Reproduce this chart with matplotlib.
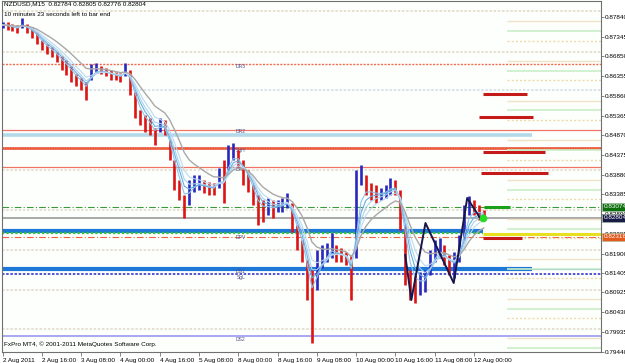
import matplotlib
matplotlib.use('Agg')
import matplotlib.pyplot as plt
import matplotlib.transforms as mtransforms
import numpy as np
import pandas as pd

plt.rcParams['font.family'] = ['Liberation Sans', 'DejaVu Sans']

# NZDUSD M15, grouped into 2-hour bars (8 x M15) - highs and lows
bar_step = 8
bar_highs = [0.87715, 0.87715, 0.87665, 0.8764, 0.87815, 0.87665, 0.87589, 0.87464, 0.87263, 0.87163,
             0.87087, 0.86962, 0.86861, 0.86761, 0.8661, 0.8641, 0.86309, 0.86209, 0.8666, 0.86686,
             0.8661, 0.8656, 0.8651, 0.8646, 0.86435, 0.86686, 0.8651, 0.85958, 0.85506, 0.8538,
             0.85305, 0.85054, 0.85305, 0.85255, 0.84753, 0.84251, 0.83749, 0.83372, 0.83749, 0.83874,
             0.83874, 0.83749, 0.83699, 0.83674, 0.8405, 0.84251, 0.84627, 0.84677, 0.84502, 0.84251,
             0.84, 0.83623, 0.83372, 0.83247, 0.83297, 0.83247, 0.83247, 0.83297, 0.83423, 0.83172,
             0.82619, 0.82243, 0.81741, 0.8149, 0.81992, 0.82117, 0.82168, 0.82419, 0.82117, 0.82042,
             0.81942, 0.81866, 0.84, 0.84125, 0.83874, 0.83674, 0.83623, 0.83548, 0.83623, 0.83799,
             0.83749, 0.83498, 0.82619, 0.8149, 0.81364, 0.8144, 0.8149, 0.81992, 0.82243, 0.82293,
             0.82117, 0.81866, 0.81942, 0.82368, 0.83121, 0.83347, 0.83247, 0.83121, 0.82996]
bar_lows = [0.87564, 0.87514, 0.87489, 0.87439, 0.87564, 0.87439, 0.87313, 0.87163, 0.87012, 0.86912,
            0.86836, 0.86711, 0.8651, 0.86384, 0.86209, 0.86108, 0.86008, 0.85757, 0.86259, 0.8646,
            0.8641, 0.86359, 0.86259, 0.86259, 0.86209, 0.86359, 0.85882, 0.85305, 0.85129, 0.84954,
            0.84878, 0.84627, 0.84954, 0.84878, 0.84251, 0.83498, 0.83247, 0.82795, 0.83121, 0.83448,
            0.83498, 0.83423, 0.83372, 0.83372, 0.83548, 0.83172, 0.84, 0.84251, 0.8405, 0.83623,
            0.83448, 0.83121, 0.82619, 0.82695, 0.8287, 0.82795, 0.82946, 0.82946, 0.83046, 0.82444,
            0.81992, 0.81691, 0.80737, 0.79658, 0.80988, 0.8154, 0.81691, 0.81791, 0.81691, 0.81691,
            0.81615, 0.80737, 0.81791, 0.83623, 0.83372, 0.83247, 0.83172, 0.83247, 0.83297, 0.83372,
            0.83372, 0.82494, 0.81113, 0.80737, 0.80662, 0.80862, 0.80938, 0.81364, 0.81691, 0.81791,
            0.81615, 0.81364, 0.81289, 0.81691, 0.82243, 0.8287, 0.8287, 0.82745, 0.82795]

bid = 0.82804

# zigzag turning points (M15 bar index, price)
zz_bars = [656, 666, 689, 735, 757, 778]
zz_prices = [0.81866, 0.80737, 0.82669, 0.81163, 0.83297, 0.82795]

# full width levels
tan_dotted_levels = [0.87991, 0.86962, 0.84, 0.82996, 0.81992, 0.80988, 0.80009]
blue_dotted_levels = [0.86008]
thin_red_levels = [0.85004, 0.84075]
dr3_level = 0.8666
sgh_level = 0.84552
green_dashdot = 0.83071
dpv_level = 0.82318
ds1_blue = 0.81502
ds1_dotted = 0.81395
ds2_level = 0.79821
dr2_band = 0.84878
upper_blue_band = 0.82469
upper_green_band = 0.82406
yellow_level = 0.82393

# short levels on the right side
right_tan = [0.8774, 0.86736, 0.85732, 0.84753, 0.83749, 0.8277, 0.81766, 0.80762, 0.79783]
right_green = [0.87489, 0.86485, 0.85506, 0.84502, 0.83498, 0.82519, 0.81515, 0.80511, 0.79532]
right_tan_dotted = [0.87238, 0.86259, 0.85255, 0.84251, 0.83272, 0.82293, 0.81289, 0.80285]
red_seg_prices = [0.85907, 0.8533, 0.84451, 0.83924, 0.82293]
red_seg_start = [783, 777, 782, 780, 783]
red_seg_end = [855, 865, 883, 888, 847]

level_labels = ['DR3', 'DR2', 'SgH', 'DR1', 'DPV', 'DS1', 'SgL', 'DS2']
level_label_prices = [0.8660, 0.8497, 0.8450, 0.8401, 0.8231, 0.8146, 0.8131, 0.7975]

price_ticks = [0.87840, 0.87345, 0.86850, 0.86355, 0.85860, 0.85365, 0.84870, 0.84375, 0.83880,
               0.83385, 0.82890, 0.82395, 0.81900, 0.81405, 0.80925, 0.80430, 0.79935, 0.79440]
time_ticks = [0, 64, 128, 192, 256, 320, 384, 448, 512, 576, 640, 704, 768]
time_labels = ['2 Aug 2011', '2 Aug 16:00', '3 Aug 08:00', '4 Aug 00:00', '4 Aug 16:00',
               '5 Aug 08:00', '8 Aug 00:00', '8 Aug 16:00', '9 Aug 08:00', '10 Aug 00:00',
               '10 Aug 16:00', '11 Aug 08:00', '12 Aug 00:00']

fig = plt.figure(figsize=(6.25, 3.63), dpi=100)
ax = fig.add_axes([2 / 625, 11 / 363, 599 / 625, 351 / 363])
ax.set_facecolor('#fdfffd')
x_end = 975
ax.set_xlim(-1, x_end)
ax.set_ylim(0.79431, 0.88242)

# levels
for p in tan_dotted_levels:
    ax.axhline(p, color='#e2dccb', lw=1.2, ls=(0, (1.5, 1)), zorder=1)
for p in blue_dotted_levels:
    ax.axhline(p, color='#d3dde8', lw=1.2, ls=(0, (1.5, 1)), zorder=1)
for p in thin_red_levels:
    ax.axhline(p, color='#f07464', lw=0.9, zorder=1)
ax.axhline(dr3_level, color='#f26b4f', lw=1.0, ls=(0, (1.5, 1)), zorder=1)
ax.axhline(sgh_level, color='#e8402c', lw=1.8, zorder=1)
ax.axhline(sgh_level, color='#f09040', lw=0.6, ls=(0, (1, 1)), zorder=1)
ax.axhline(green_dashdot, color='#3c9a3c', lw=0.8, ls=(0, (6, 2, 1, 2)), zorder=1)
ax.axhline(bid, color='#9a9a9a', lw=1.2, zorder=1)
ax.axhline(dpv_level, color='#f06040', lw=0.8, ls=(0, (6, 2, 1, 2)), zorder=1)
ax.axhline(ds1_blue, color='#3a6ee0', lw=0.8, zorder=1)
ax.axhline(ds1_dotted, color='#3636d0', lw=1.2, ls=(0, (1.5, 1)), zorder=1)
ax.axhline(ds2_level, color='#9a9af0', lw=1.2, zorder=1)

ax.hlines(dr2_band, -1, 863, color='#b4daea', lw=2.6, zorder=1)
ax.hlines(upper_blue_band, -1, 783, color='#1e78d8', lw=3, zorder=1)
ax.hlines(upper_green_band, -1, 783, color='#32c032', lw=1.6, ls=(0, (1, 1)), zorder=1)
ax.hlines(ds1_blue + 0.0001, -1, 862, color='#1e78d8', lw=3, zorder=1)
ax.hlines(yellow_level, 783, x_end, color='#e6e020', lw=2.2, zorder=1)

ax.hlines(right_tan, 822, x_end, color='#f0e2c4', lw=1.0, zorder=1)
ax.hlines(right_green, 822, x_end, color='#c9efc9', lw=1.2, zorder=1)
ax.hlines(right_tan_dotted, 822, x_end, color='#f0d8a8', lw=1.0, ls=(0, (1.5, 1.5)), zorder=1)
ax.hlines(red_seg_prices, red_seg_start, red_seg_end, color='#c41a1a', lw=2.2, zorder=2)
ax.hlines(green_dashdot, 785, 827, color='#1aa01a', lw=2.2, zorder=2)

for lab, p in zip(level_labels, level_label_prices):
    ax.text(388, p, lab, fontsize=3.6, color='#50508a', ha='center', va='center', zorder=3)

# candles
highs = np.array(bar_highs)
lows = np.array(bar_lows)
bars_x = np.arange(len(highs)) * bar_step
mid = (highs + lows) / 2
up = np.r_[True, np.diff(mid) >= 0]
cols = np.where(up, '#2828c0', '#dc1414')
ax.vlines(bars_x, lows, highs, colors=cols, lw=1.9, zorder=4)

# moving averages
s = pd.Series(mid)
for span, c in zip([2.5, 3.5, 4.5, 6], ['#8fc4ea', '#6aaee0', '#a8d2f0', '#bcd9f0']):
    ax.plot(bars_x, s.ewm(span=span, adjust=False).mean(), color=c, lw=0.8, zorder=5)
ax.plot(bars_x, s.ewm(span=10, adjust=False).mean(), color='#a8a8a8', lw=1.0, zorder=5)

# zigzag
ax.plot(zz_bars, zz_prices, color='#16164a', lw=1.4, zorder=6)
ax.plot([783], [0.82795], 'o', color='#22dd22', ms=4.5, zorder=7)

# axes styling
ax.set_yticks(price_ticks)
ax.set_yticklabels(['%.5f' % v for v in price_ticks])
ax.set_xticks(time_ticks)
ax.set_xticklabels(time_labels, ha='left')
ax.yaxis.tick_right()
ax.tick_params(axis='y', length=2, width=0.6, pad=1, labelsize=4.6, color='#707070')
ax.tick_params(axis='x', length=3, width=0.6, pad=1, labelsize=4.6, color='#707070')
for sp in ax.spines.values():
    sp.set_color('#707070')
    sp.set_linewidth(0.8)

# price boxes on the axis
trans = mtransforms.blended_transform_factory(ax.transAxes, ax.transData)
for p, lab, c in [(green_dashdot, '0.83074', '#0c6e0c'), (bid, '0.82804', '#1a1a48'),
                  (dpv_level, '0.82316', '#e25a1c')]:
    ax.text(1.004, p, lab, transform=trans, fontsize=4.6, color='white', ha='left', va='center',
            clip_on=False, zorder=10,
            bbox=dict(boxstyle='square,pad=0.25', fc=c, ec='#a0c0a0', lw=0.4))

ax.text(0.003, 0.998, 'NZDUSD,M15  0.82784 0.82805 0.82776 0.82804', transform=ax.transAxes,
        fontsize=4.6, ha='left', va='top', zorder=10)
ax.text(0.003, 0.970, '10 minutes 23 seconds left to bar end', transform=ax.transAxes,
        fontsize=4.6, ha='left', va='top', zorder=10)
ax.text(0.003, 0.015, 'FxPro MT4, \u00a9 2001-2011 MetaQuotes Software Corp.', transform=ax.transAxes,
        fontsize=4.6, ha='left', va='bottom', zorder=10)

fig.savefig('out.png', dpi=100)
